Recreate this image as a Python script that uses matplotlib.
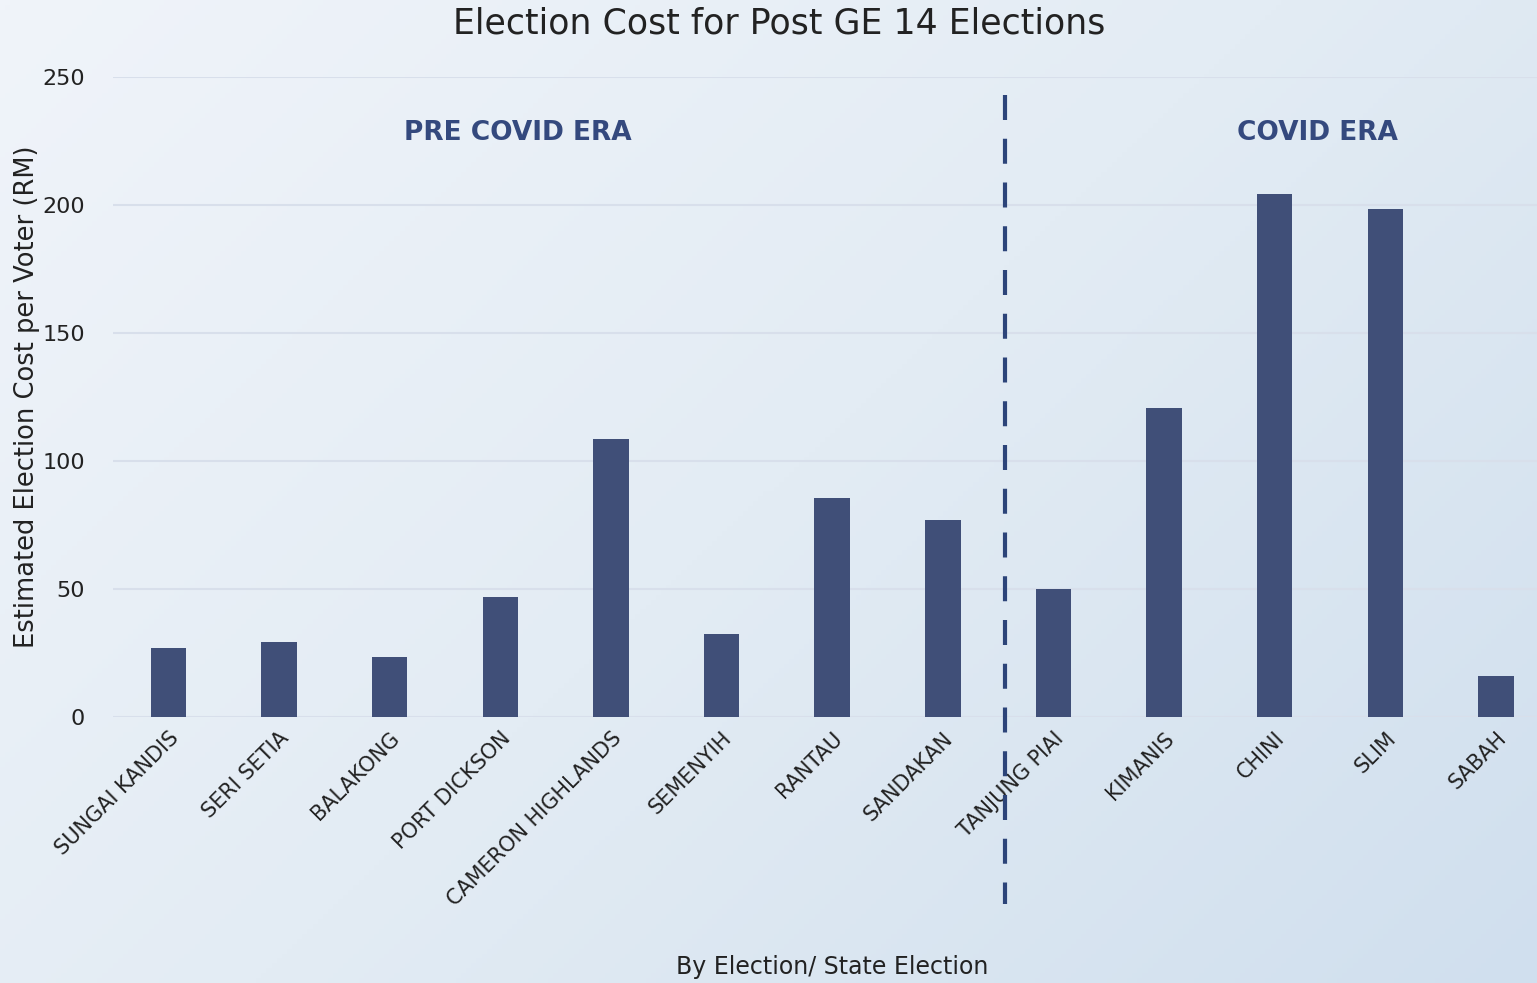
import matplotlib.pyplot as plt
import numpy as np
from matplotlib.colors import LinearSegmentedColormap

# data
elections = ["SUNGAI KANDIS", "SERI SETIA", "BALAKONG", "PORT DICKSON",
             "CAMERON HIGHLANDS", "SEMENYIH", "RANTAU", "SANDAKAN",
             "TANJUNG PIAI", "KIMANIS", "CHINI", "SLIM", "SABAH"]
cost_per_voter = [26.8, 29.2, 23.5, 47.0, 108.7, 32.6, 85.5, 76.9,
                  50.1, 120.8, 204.4, 198.6, 16.0]
y_ticks = [0, 50, 100, 150, 200, 250]

bar_color = "#404f78"
line_color = "#2c4479"
text_color = "#222222"

fig = plt.figure(figsize=(15.37, 9.83), dpi=100)

# soft blue gradient background
bg = fig.add_axes([0, 0, 1, 1], zorder=-10)
cmap = LinearSegmentedColormap.from_list("bg", ["#f0f4fa", "#e3ecf4", "#d0dfee"])
gx, gy = np.meshgrid(np.linspace(0, 1, 300), np.linspace(0, 1, 200))
grad = 0.6 * gx + 0.4 * gy
bg.imshow(grad, cmap=cmap, aspect="auto", extent=[0, 1, 0, 1], origin="upper")
bg.axis("off")

ax = fig.add_axes([113 / 1537, 266 / 983, 1 - 113 / 1537, 640 / 983])
ax.patch.set_alpha(0)
x = np.arange(len(elections))
ax.bar(x, cost_per_voter, width=0.32, color=bar_color, zorder=3)

ax.set_xlim(-0.5, 12.37)
ax.set_ylim(0, 250)
ax.set_yticks(y_ticks)
ax.grid(axis="y", color="#d8dfeb", linewidth=1.5, zorder=0)
for s in ax.spines.values():
    s.set_visible(False)
ax.tick_params(length=0, labelsize=16, colors=text_color, pad=20)
ax.tick_params(axis="x", pad=8)
ax.set_xticks(x)
ax.set_xticklabels(elections, rotation=45, ha="right", rotation_mode="anchor", fontsize=15)

ax.set_ylabel("Estimated Election Cost per Voter (RM)", fontsize=18.5, color=text_color, labelpad=2)
fig.text(832 / 1537, 1 - 967 / 983, "By Election/ State Election", fontsize=17,
         color=text_color, ha="center", va="center")
fig.text(779 / 1537, 1 - 23 / 983, "Election Cost for Post GE 14 Elections", fontsize=25,
         color=text_color, ha="center", va="center")

# era divider
ax.plot([7.56, 7.56], [243, -73], color=line_color, linewidth=3,
        dashes=(6, 4.5), clip_on=False, zorder=4)
ax.text(3.16, 228, "PRE COVID ERA", fontsize=19, fontweight="bold", color="#34497e",
        ha="center", va="center")
ax.text(10.39, 228, "COVID ERA", fontsize=19, fontweight="bold", color="#34497e",
        ha="center", va="center")

plt.savefig("out.png", dpi=100)
